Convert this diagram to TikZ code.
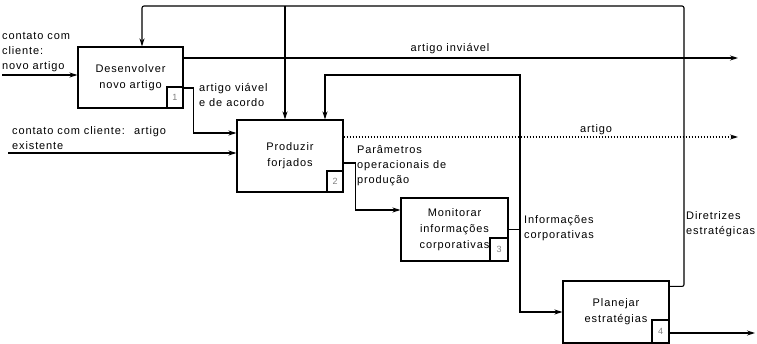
\documentclass[tikz,border=0pt]{standalone}
\usepackage{fontspec}
\setmainfont{Liberation Sans}[LetterSpace=8]
\usetikzlibrary{arrows.meta,positioning,calc}
\tikzset{
  actbox/.style={draw=black, line width=1.1pt, align=center, inner sep=0pt,
    font=\fontsize{11}{16}\selectfont},
  numbox/.style={draw=black, line width=1.1pt, inner sep=0pt, minimum width=16pt,
    minimum height=21pt, font=\fontsize{9}{9}\selectfont, text=black!50},
  flow/.style={->, line width=1.1pt, >={Stealth[length=8pt,width=5pt]}, draw=black},
  lbl/.style={font=\fontsize{11}{15}\selectfont, align=left, inner sep=0pt}
}

\begin{document}
\begin{tikzpicture}[x=1pt, y=-1pt]
  \useasboundingbox (0,0) rectangle (757,344);
  % activities
  \node[actbox, minimum width=105pt, minimum height=61pt] (desenv) at (130.5,77.5) {Desenvolver\\novo artigo};
  \node[actbox, minimum width=106pt, minimum height=72pt] (produzir) at (290,156) {Produzir\\forjados};
  \node[actbox, minimum width=107pt, minimum height=63pt] (monitorar) at (454.5,229.5) {Monitorar\\informações\\corporativas};
  \node[actbox, minimum width=106pt, minimum height=62pt] (planejar) at (616,312) {Planejar\\estratégias};
  \node[numbox, anchor=south east] (desenvN) at (desenv.south east) {1};
  \node[numbox, anchor=south east] (produzirN) at (produzir.south east) {2};
  \node[numbox, anchor=south east, minimum width=18pt, minimum height=23pt] (monitorarN) at (monitorar.south east) {3};
  \node[numbox, anchor=south east, minimum width=17pt, minimum height=23pt] (planejarN) at (planejar.south east) {4};

  % free ends and bends
  \coordinate (in1) at (2,75);
  \coordinate (in2) at (8,153);
  \coordinate (outInv) at (738,58);
  \coordinate (outArt) at (738,137);
  \coordinate (outPlan) at (755,333);
  \coordinate (fbR) at (684,6);
  \coordinate (fbM) at (285,6);
  \coordinate (icR) at (520,75);

  % inputs
  \draw[flow] (in1) -- (in1 -| desenv.west);
  \node[lbl, anchor=south west, yshift=2.7pt] (in1lbl) at (in1) {contato com\\cliente:\\novo artigo};
  \draw[flow] (in2) -- (in2 -| produzir.west);
  \node[lbl, anchor=south west, xshift=4pt, yshift=3pt] (in2lbl) at (in2) {contato com cliente:~ artigo\\existente};

  % outputs
  \draw[flow] ([yshift=19.5pt]desenv.east) -- (outInv);
  \node[lbl, anchor=south] (invlbl) at (450,54) {artigo inviável};
  \draw[flow] ([yshift=-10.5pt]desenv.east) -- ++(10,0) |- ([yshift=23pt]produzir.west);
  \node[lbl, anchor=north west] (viavlbl) at (199,83) {artigo viável\\e de acordo};
  \draw[flow, dash pattern=on 1.2pt off 1.8pt] ([yshift=19pt]produzir.east) -- (outArt);
  \node[lbl, anchor=south] (artlbl) at (596,135) {artigo};
  \draw[flow] ([yshift=-7pt]produzir.east) -- ++(12,0) |- ([yshift=19.5pt]monitorar.west);
  \node[lbl, anchor=north west] (parlbl) at (357,145.5) {Parâmetros\\operacionais de\\produção};
  \draw[flow] (monitorar.east) -| (icR) -| ([xshift=35pt]produzir.north);
  \draw[flow] (monitorar.east -| icR) |- (planejar.west);
  \node[lbl, anchor=north west] (inflbl) at (524,215) {Informações\\corporativas};
  \draw[flow, rounded corners=2pt] ([yshift=-6pt]planejar.north east) -| (fbR) -| ([xshift=11.5pt]desenv.north);
  \draw[flow] (fbM) -- (fbM |- produzir.north);
  \node[lbl, anchor=north west] (dirlbl) at (686,211) {Diretrizes\\estratégicas};
  \draw[flow] ([yshift=-21pt]planejar.east) -- (outPlan);
\end{tikzpicture}
\end{document}
